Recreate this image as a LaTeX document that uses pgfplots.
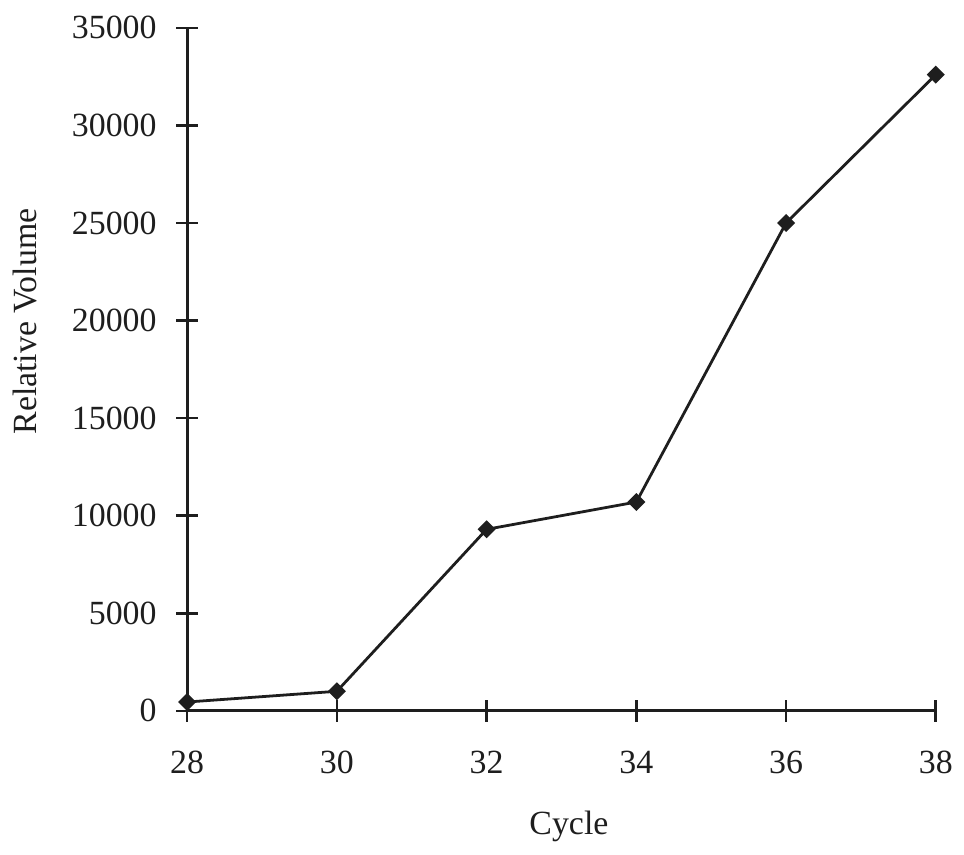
\documentclass[border=0pt]{standalone}
\usepackage{fontspec}
\setmainfont{Liberation Serif}
\usepackage{pgfplots}
\pgfplotsset{compat=1.18}
\definecolor{ink}{HTML}{1E1E1E}
\begin{document}
\fontsize{17pt}{20pt}\selectfont
\begin{tikzpicture}
\begin{axis}[
  scale only axis,
  width=376pt, height=343pt,
  xmin=28, xmax=38, ymin=0, ymax=35000,
  axis x line=bottom, axis y line=left,
  axis line style={-, line width=1.4pt, ink},
  every tick/.style={line width=1.3pt, ink},
  tick align=center,
  major tick length=11pt,
  xtick={28,30,32,34,36,38},
  ytick={0,5000,10000,15000,20000,25000,30000,35000},
  scaled y ticks=false,
  /pgf/number format/assume math mode=true,
  yticklabel style={/pgf/number format/fixed, /pgf/number format/1000 sep={}, text=ink, xshift=-4pt},
  xticklabel style={text=ink, yshift=-9pt},
  ticklabel style={font=\fontsize{17pt}{20pt}\selectfont},
  xlabel={Cycle},
  ylabel={Relative Volume},
  xlabel style={at={(axis description cs:0.51,-0.169)}, anchor=center, font=\fontsize{17pt}{20pt}\selectfont, text=ink},
  ylabel style={at={(axis description cs:-0.2168,0.57)}, anchor=center, rotate=0, font=\fontsize{17pt}{20pt}\selectfont, text=ink},
  clip=false,
]
\addplot[line width=1.4pt, ink, mark=square*, mark size=2.5pt, mark options={rotate=45, fill=ink}]
  coordinates {(28,450) (30,1000) (32,9300) (34,10700) (36,25000) (38,32600)};
\path (rel axis cs:-0.25,-0.2099) rectangle (rel axis cs:1.0319,1.0408);
\end{axis}
\end{tikzpicture}
\end{document}
